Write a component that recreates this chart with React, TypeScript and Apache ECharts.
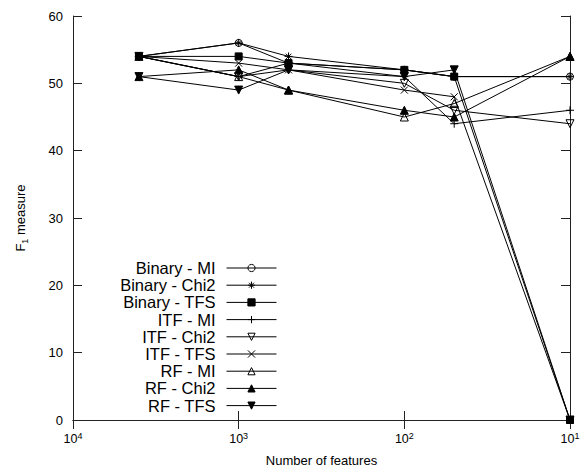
import React, { useEffect, useRef } from 'react';
import * as echarts from 'echarts';

// Number of features (x, log scale, reversed)
const features = [4000, 1000, 500, 100, 50, 10];

const seriesNames = [
  'Binary - MI',
  'Binary - Chi2',
  'Binary - TFS',
  'ITF - MI',
  'ITF - Chi2',
  'ITF - TFS',
  'RF - MI',
  'RF - Chi2',
  'RF - TFS',
];

// F1 measure values, one array per series (same order as features)
const binaryMI = [54, 56, 53, 52, 51, 51];
const binaryChi2 = [54, 56, 54, 52, 51, 51];
const binaryTFS = [54, 54, 53, 52, 51, 0];
const itfMI = [54, 51, 53, 51, 44, 46];
const itfChi2 = [54, 51, 52, 50, 46, 44];
const itfTFS = [54, 53, 52, 49, 48, 0];
const rfMI = [54, 51, 49, 45, 47, 54];
const rfChi2 = [51, 52, 49, 46, 45, 54];
const rfTFS = [51, 49, 52, 51, 52, 0];

const allValues = [binaryMI, binaryChi2, binaryTFS, itfMI, itfChi2, itfTFS, rfMI, rfChi2, rfTFS];

const yMin = 0;
const yMax = 60;
const yInterval = 10;

const FONT = '"Liberation Sans", Arial, Helvetica, sans-serif';
const INK = '#000';
const AXIS = '#222';

const PLUS = 'path://M5,0L5,10M0,5L10,5';
const CROSS = 'path://M0,0L10,10M0,10L10,0';
const STAR = 'path://M5,0L5,10M0,5L10,5M1.6,1.6L8.4,8.4M1.6,8.4L8.4,1.6';

type Mk = { symbol: string; rotate: number; filled: boolean; size: number };
const markers: Mk[] = [
  { symbol: 'circle', rotate: 0, filled: false, size: 7 },
  { symbol: STAR, rotate: 0, filled: false, size: 8 },
  { symbol: 'rect', rotate: 0, filled: true, size: 7 },
  { symbol: PLUS, rotate: 0, filled: false, size: 8 },
  { symbol: 'triangle', rotate: 180, filled: false, size: 8 },
  { symbol: CROSS, rotate: 0, filled: false, size: 7 },
  { symbol: 'triangle', rotate: 0, filled: false, size: 8 },
  { symbol: 'triangle', rotate: 0, filled: true, size: 8 },
  { symbol: 'triangle', rotate: 180, filled: true, size: 8 },
];

const legendRowTop = 268;
const legendRowStep = 17.2;

export default function App() {
  const ref = useRef<HTMLDivElement>(null);

  useEffect(() => {
    if (!ref.current) return;
    const chart = echarts.init(ref.current, undefined, { renderer: 'svg' });

    const series = seriesNames.map((name, i) => {
      const m = markers[i];
      return {
        name,
        type: 'line',
        data: features.map((f, j) => [f, allValues[i][j]]),
        symbol: m.symbol,
        symbolSize: m.size,
        symbolRotate: m.rotate,
        showAllSymbol: true,
        lineStyle: { color: INK, width: 1 },
        itemStyle: {
          color: m.filled ? INK : 'rgba(255,255,255,0)',
          borderColor: INK,
          borderWidth: 1,
        },
        emphasis: { disabled: true },
        z: m.filled ? 3 : 2,
      };
    });

    const legends = seriesNames.map((name, i) => ({
      data: [name],
      orient: 'horizontal',
      align: 'right',
      right: 308,
      top: legendRowTop + i * legendRowStep - 9,
      padding: 0,
      itemWidth: 50,
      itemHeight: 9,
      selectedMode: false,
      lineStyle: { color: INK, width: 1 },
      itemStyle: { borderWidth: 1, borderColor: INK },
      textStyle: {
        fontFamily: FONT,
        fontSize: 16.5,
        color: INK,
        lineHeight: 18,
        padding: [0, 6, 0, 0],
      },
    }));

    const xBase = {
      type: 'log',
      logBase: 10,
      min: 10,
      max: 10000,
      inverse: true,
      splitLine: { show: false },
      minorTick: { show: false },
      axisLine: { show: true, lineStyle: { color: AXIS, width: 1 } },
      axisTick: { show: true, inside: true, length: 9, lineStyle: { color: AXIS } },
    };

    const yBase = {
      type: 'value',
      min: yMin,
      max: yMax,
      interval: yInterval,
      splitLine: { show: false },
      axisLine: { show: true, lineStyle: { color: AXIS, width: 1 } },
      axisTick: { show: true, inside: true, length: 9, lineStyle: { color: AXIS } },
    };

    chart.setOption({
      animation: false,
      backgroundColor: '#fff',
      grid: { left: 73, right: 15, top: 16, bottom: 51, containLabel: false },
      legend: legends,
      xAxis: [
        {
          ...xBase,
          position: 'bottom',
          name: 'Number of features',
          nameLocation: 'middle',
          nameGap: 34,
          nameTextStyle: { fontFamily: FONT, fontSize: 13, color: INK },
          axisLabel: {
            show: true,
            margin: 11,
            formatter: (v: number) => `{b|10}{s|${Math.round(Math.log10(v))}}`,
            rich: {
              b: { fontFamily: FONT, fontSize: 12.5, color: INK, lineHeight: 16 },
              s: { fontFamily: FONT, fontSize: 9, color: INK, lineHeight: 9, verticalAlign: 'top' },
            },
          },
        },
        {
          ...xBase,
          position: 'top',
          axisLabel: { show: false },
        },
      ],
      yAxis: [
        {
          ...yBase,
          position: 'left',
          name: 'F{sub|1} measure',
          nameLocation: 'middle',
          nameGap: 44,
          nameTextStyle: {
            fontFamily: FONT,
            fontSize: 13,
            color: INK,
            lineHeight: 18,
            rich: {
              sub: { fontFamily: FONT, fontSize: 9, color: INK, lineHeight: 9, verticalAlign: 'bottom' },
            },
          },
          axisLabel: { show: true, margin: 10, fontFamily: FONT, fontSize: 13, color: INK },
        },
        {
          ...yBase,
          position: 'right',
          axisLabel: { show: false },
        },
      ],
      series,
    });

    return () => chart.dispose();
  }, []);

  return (
    <div
      ref={ref}
      style={{ position: 'fixed', left: 0, top: 0, width: 585, height: 472 }}
    />
  );
}
